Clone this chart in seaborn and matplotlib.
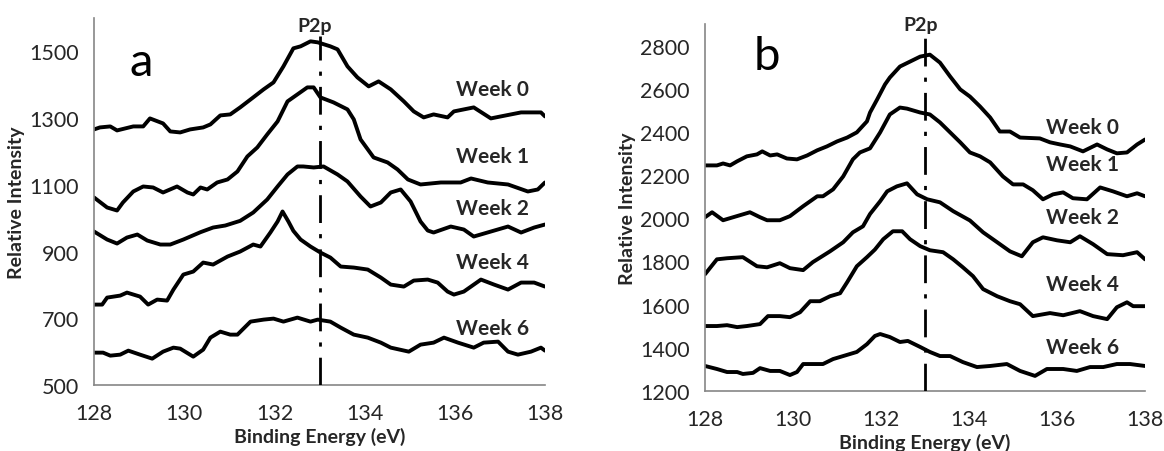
import numpy as np
import pandas as pd
import matplotlib
matplotlib.use("Agg")
import matplotlib.pyplot as plt
import seaborn as sns

# ---------------- data: panel a ----------------
weeks = ["Week 0", "Week 1", "Week 2", "Week 4", "Week 6"]

a_w0_E = [128.00,128.13,128.36,128.51,128.87,129.09,129.24,129.53,129.69,129.91,130.13,130.42,130.58,130.80,131.02,131.24,131.53,131.76,131.98,132.20,132.42,132.58,132.80,132.96,133.24,133.40,133.62,133.84,134.09,134.31,134.58,134.87,135.09,135.31,135.53,135.84,135.98,136.42,136.80,137.02,137.47,137.91,138.00]
a_w0_I = [1266,1272,1275,1263,1275,1275,1299,1284,1260,1257,1266,1272,1281,1308,1311,1332,1362,1386,1407,1455,1509,1515,1530,1527,1515,1506,1455,1422,1395,1410,1386,1350,1320,1302,1311,1302,1320,1332,1299,1305,1317,1317,1305]

a_w1_E = [128.00,128.29,128.51,128.64,128.87,129.09,129.31,129.53,129.84,130.07,130.20,130.36,130.51,130.73,130.96,131.18,131.40,131.62,131.84,132.07,132.29,132.51,132.73,132.87,133.02,133.31,133.62,133.76,133.91,134.20,134.51,134.73,134.96,135.24,135.69,136.13,136.36,136.73,137.18,137.62,137.84,138.00]
a_w1_I = [1062,1032,1023,1047,1080,1095,1092,1077,1095,1077,1071,1092,1086,1107,1116,1140,1185,1212,1251,1290,1350,1371,1392,1392,1362,1347,1326,1296,1236,1182,1167,1146,1116,1101,1107,1107,1119,1107,1101,1080,1086,1107]

a_w2_E = [128.00,128.29,128.51,128.73,128.96,129.18,129.47,129.69,129.98,130.36,130.64,130.91,131.24,131.53,131.84,132.07,132.29,132.51,132.64,132.87,133.09,133.40,133.62,133.91,134.13,134.36,134.58,134.80,135.02,135.24,135.40,135.53,135.91,136.20,136.42,136.80,137.18,137.47,137.76,138.00]
a_w2_I = [960,936,924,942,951,933,921,921,936,958,972,978,992,1017,1056,1095,1131,1155,1155,1152,1155,1131,1110,1065,1035,1047,1077,1086,1050,990,963,957,975,966,945,960,975,957,972,981]

a_w4_E = [128.00,128.18,128.29,128.58,128.73,129.02,129.20,129.40,129.62,129.76,129.98,130.20,130.42,130.64,130.96,131.24,131.53,131.69,131.91,132.07,132.18,132.31,132.42,132.58,132.80,133.02,133.24,133.47,133.76,134.07,134.36,134.58,134.87,135.09,135.40,135.62,135.84,135.98,136.20,136.58,136.87,137.18,137.47,137.76,138.00]
a_w4_I = [741,741,762,768,777,765,741,756,753,786,831,840,867,861,885,900,921,915,957,990,1020,990,962,936,915,897,882,855,852,846,822,801,795,813,816,807,780,771,780,816,801,786,807,807,795]

a_w6_E = [128.00,128.20,128.36,128.58,128.76,129.02,129.29,129.53,129.76,129.91,130.20,130.42,130.58,130.80,131.02,131.18,131.47,131.76,131.98,132.20,132.51,132.80,132.96,133.24,133.47,133.76,134.07,134.36,134.58,134.98,135.24,135.53,135.76,136.07,136.42,136.64,136.96,137.18,137.40,137.69,137.91,138.00]
a_w6_I = [597,597,588,591,603,591,579,600,612,609,585,606,642,660,651,651,690,696,699,690,702,690,696,690,672,651,642,627,612,600,621,627,642,627,612,627,630,600,591,600,612,603]

# ---------------- data: panel b ----------------
b_w0_E = [128.00,128.27,128.41,128.57,128.73,128.95,129.18,129.30,129.48,129.64,129.86,130.09,130.32,130.55,130.77,131.00,131.23,131.45,131.68,131.75,131.91,132.09,132.20,132.43,132.66,132.89,133.11,133.34,133.57,133.80,134.02,134.25,134.48,134.70,134.93,135.16,135.61,135.84,136.07,136.30,136.59,136.91,137.14,137.36,137.59,137.82,138.00]
b_w0_I = [2245,2245,2254,2245,2264,2287,2296,2310,2291,2296,2277,2273,2291,2315,2333,2356,2374,2398,2449,2490,2550,2620,2652,2703,2726,2749,2758,2721,2657,2597,2564,2518,2467,2402,2402,2374,2370,2352,2342,2333,2310,2342,2319,2301,2305,2342,2365]

b_w1_E = [128.00,128.16,128.41,128.64,129.02,129.25,129.41,129.70,129.93,130.23,130.55,130.68,130.91,131.14,131.36,131.52,131.75,131.98,132.20,132.43,132.59,132.89,133.11,133.34,133.57,133.80,134.02,134.25,134.48,134.77,135.00,135.23,135.45,135.68,135.91,136.14,136.36,136.68,136.98,137.27,137.59,137.82,138.00]
b_w1_I = [2005,2028,1991,2005,2028,2005,1991,1991,2010,2056,2102,2102,2134,2194,2273,2305,2324,2398,2481,2513,2508,2490,2481,2444,2398,2352,2305,2287,2259,2194,2157,2157,2130,2088,2111,2120,2093,2088,2143,2125,2102,2116,2102]

b_w2_E = [128.00,128.27,128.50,128.86,129.18,129.41,129.70,129.93,130.23,130.45,130.84,131.14,131.36,131.59,131.75,131.98,132.14,132.36,132.59,132.82,133.05,133.34,133.64,134.02,134.32,134.64,134.93,135.20,135.45,135.68,136.00,136.30,136.52,136.82,137.14,137.50,137.82,138.00]
b_w2_I = [1741,1810,1815,1820,1778,1773,1792,1769,1760,1797,1847,1889,1935,1963,2020,2079,2125,2148,2162,2111,2088,2074,2033,1990,1935,1889,1847,1824,1889,1912,1898,1889,1917,1880,1834,1829,1843,1810]

b_w4_E = [128.00,128.27,128.50,128.73,128.95,129.25,129.43,129.70,129.93,130.16,130.39,130.61,130.84,131.07,131.23,131.45,131.68,131.86,132.05,132.27,132.48,132.66,132.89,133.11,133.41,133.64,133.86,134.09,134.32,134.64,134.93,135.16,135.45,135.84,136.14,136.52,136.82,137.14,137.36,137.59,137.73,138.00]
b_w4_I = [1501,1501,1505,1496,1501,1510,1547,1547,1542,1565,1616,1616,1639,1653,1704,1778,1820,1855,1903,1940,1940,1903,1871,1852,1843,1810,1773,1732,1672,1639,1616,1602,1547,1561,1551,1570,1547,1533,1588,1611,1593,1593]

b_w6_E = [128.00,128.27,128.50,128.73,128.86,129.09,129.25,129.48,129.70,129.93,130.09,130.23,130.45,130.68,130.91,131.14,131.45,131.68,131.86,131.98,132.20,132.43,132.61,132.89,133.11,133.34,133.57,133.86,134.18,134.48,134.86,135.16,135.50,135.77,136.14,136.45,136.75,137.05,137.36,137.66,138.00]
b_w6_I = [1316,1302,1288,1288,1279,1284,1306,1293,1293,1274,1288,1325,1325,1325,1348,1362,1381,1417,1455,1464,1450,1427,1432,1404,1381,1362,1362,1334,1311,1316,1325,1293,1270,1302,1302,1293,1311,1311,1325,1325,1316]

# label positions (data units)
a_label_E = 136.84
a_label_I = [1386, 1185, 1032, 870, 672]
b_label_E = 136.57
b_label_I = [2421, 2250, 2005, 1695, 1404]
peak_E = 133.0

a_yticks = [500, 700, 900, 1100, 1300, 1500]
b_yticks = [1200, 1400, 1600, 1800, 2000, 2200, 2400, 2600, 2800]
xticks = [128, 130, 132, 134, 136, 138]


def frame(series):
    rows = []
    for wk, (E, I) in zip(weeks, series):
        rows.append(pd.DataFrame({"E": E, "I": I, "week": wk}))
    return pd.concat(rows, ignore_index=True)


df_a = frame([(a_w0_E, a_w0_I), (a_w1_E, a_w1_I), (a_w2_E, a_w2_I),
              (a_w4_E, a_w4_I), (a_w6_E, a_w6_I)])
df_b = frame([(b_w0_E, b_w0_I), (b_w1_E, b_w1_I), (b_w2_E, b_w2_I),
              (b_w4_E, b_w4_I), (b_w6_E, b_w6_I)])

sns.set_style("white")
plt.rcParams["font.family"] = ["Lato", "DejaVu Sans"]

GRAY = "#868686"
TXT = "#262626"

fig = plt.figure(figsize=(11.64, 4.52), dpi=100)
ax_a = fig.add_axes([0.0808, 0.146, 0.3874, 0.812])
ax_b = fig.add_axes([0.6057, 0.1327, 0.378, 0.812])


def style(ax, df, ylim, yticks, label_E, label_I, letter, letter_pos, p2p_y, line_top):
    sns.lineplot(data=df, x="E", y="I", hue="week", palette=["black"] * 5,
                 sort=False, estimator=None, legend=False, lw=2.8, ax=ax,
                 solid_joinstyle="round", solid_capstyle="round")
    ax.vlines(peak_E, ylim[0], line_top, colors="black", lw=2.0,
              linestyles=(0, (10, 4, 1.5, 4)), zorder=3)
    ax.set_xlim(128, 138)
    ax.set_ylim(*ylim)
    ax.set_xticks(xticks)
    ax.set_yticks(yticks)
    for s in ["top", "right"]:
        ax.spines[s].set_visible(False)
    for s in ["left", "bottom"]:
        ax.spines[s].set_color(GRAY)
        ax.spines[s].set_linewidth(1.2)
    ax.tick_params(axis="both", direction="out", length=6, width=1.2,
                   color=GRAY, labelcolor=TXT, labelsize=15.5)
    ax.tick_params(axis="x", pad=7)
    ax.tick_params(axis="y", pad=5)
    ax.set_xlabel("Binding Energy (eV)", fontsize=14, fontweight="bold",
                  color=TXT, labelpad=3)
    ax.set_ylabel("Relative Intensity", fontsize=14, fontweight="bold",
                  color=TXT, labelpad=3)
    for wk, y in zip(weeks, label_I):
        ax.text(label_E, y, wk, ha="center", va="center", fontsize=15,
                fontweight="bold", color=TXT)
    ax.text(letter_pos[0], letter_pos[1], letter, ha="center", va="center",
            fontsize=34, color="black")
    ax.text(peak_E - 0.1, p2p_y, "P2p", ha="center", va="center",
            fontsize=14, fontweight="bold", color=TXT, clip_on=False)


style(ax_a, df_a, (500, 1600), a_yticks, a_label_E, a_label_I, "a",
      (129.05, 1468), 1578, 1545)
style(ax_b, df_b, (1200, 2900), b_yticks, b_label_E, b_label_I, "b",
      (129.4, 2754), 2897, 2840)

fig.savefig("out.png", dpi=100)
